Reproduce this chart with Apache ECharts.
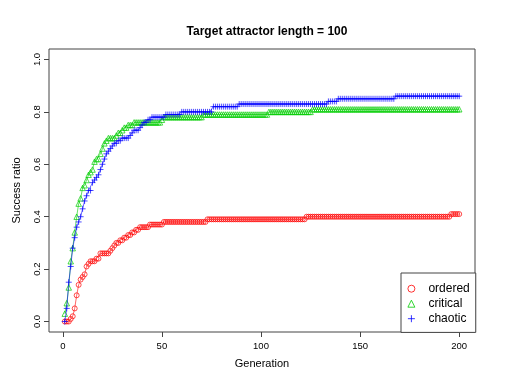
<!DOCTYPE html>
<html>
<head>
<meta charset="utf-8">
<script src="https://cdn.jsdelivr.net/npm/echarts@6/dist/echarts.min.js"></script>
<style>
  html, body { margin: 0; padding: 0; background: #fff; }
  #chart { width: 506px; height: 391px; }
</style>
</head>
<body>
<div id="chart"></div>
<script>
// success ratio per generation (1..200)
const ordered = [
  0, 0, 0, 0.01, 0.02, 0.05, 0.10, 0.14, 0.16, 0.17,
  0.18, 0.21, 0.22, 0.23, 0.23, 0.23, 0.24, 0.24, 0.26, 0.26,
  0.26, 0.26, 0.26, 0.27, 0.28, 0.29, 0.30, 0.30, 0.31, 0.31,
  0.32, 0.32, 0.33, 0.33, 0.34, 0.34, 0.35, 0.35, 0.36, 0.36,
  0.36, 0.36, 0.36, 0.37, 0.37, 0.37, 0.37, 0.37, 0.37, 0.37,
  0.38, 0.38, 0.38, 0.38, 0.38, 0.38, 0.38, 0.38, 0.38, 0.38,
  0.38, 0.38, 0.38, 0.38, 0.38, 0.38, 0.38, 0.38, 0.38, 0.38,
  0.38, 0.38, 0.39, 0.39, 0.39, 0.39, 0.39, 0.39, 0.39, 0.39,
  0.39, 0.39, 0.39, 0.39, 0.39, 0.39, 0.39, 0.39, 0.39, 0.39,
  0.39, 0.39, 0.39, 0.39, 0.39, 0.39, 0.39, 0.39, 0.39, 0.39,
  0.39, 0.39, 0.39, 0.39, 0.39, 0.39, 0.39, 0.39, 0.39, 0.39,
  0.39, 0.39, 0.39, 0.39, 0.39, 0.39, 0.39, 0.39, 0.39, 0.39,
  0.39, 0.39, 0.40, 0.40, 0.40, 0.40, 0.40, 0.40, 0.40, 0.40,
  0.40, 0.40, 0.40, 0.40, 0.40, 0.40, 0.40, 0.40, 0.40, 0.40,
  0.40, 0.40, 0.40, 0.40, 0.40, 0.40, 0.40, 0.40, 0.40, 0.40,
  0.40, 0.40, 0.40, 0.40, 0.40, 0.40, 0.40, 0.40, 0.40, 0.40,
  0.40, 0.40, 0.40, 0.40, 0.40, 0.40, 0.40, 0.40, 0.40, 0.40,
  0.40, 0.40, 0.40, 0.40, 0.40, 0.40, 0.40, 0.40, 0.40, 0.40,
  0.40, 0.40, 0.40, 0.40, 0.40, 0.40, 0.40, 0.40, 0.40, 0.40,
  0.40, 0.40, 0.40, 0.40, 0.40, 0.41, 0.41, 0.41, 0.41, 0.41
];

const critical = [
  0.03, 0.07, 0.13, 0.23, 0.28, 0.34, 0.40, 0.45, 0.47, 0.51,
  0.52, 0.54, 0.56, 0.57, 0.58, 0.61, 0.62, 0.62, 0.64, 0.66,
  0.68, 0.69, 0.70, 0.70, 0.70, 0.70, 0.71, 0.72, 0.72, 0.73,
  0.74, 0.74, 0.75, 0.75, 0.75, 0.76, 0.76, 0.76, 0.76, 0.76,
  0.76, 0.76, 0.76, 0.76, 0.76, 0.76, 0.76, 0.76, 0.76, 0.77,
  0.78, 0.78, 0.78, 0.78, 0.78, 0.78, 0.78, 0.78, 0.78, 0.78,
  0.78, 0.78, 0.78, 0.78, 0.78, 0.78, 0.78, 0.78, 0.78, 0.78,
  0.79, 0.79, 0.79, 0.79, 0.79, 0.79, 0.79, 0.79, 0.79, 0.79,
  0.79, 0.79, 0.79, 0.79, 0.79, 0.79, 0.79, 0.79, 0.79, 0.79,
  0.79, 0.79, 0.79, 0.79, 0.79, 0.79, 0.79, 0.79, 0.79, 0.79,
  0.79, 0.79, 0.79, 0.80, 0.80, 0.80, 0.80, 0.80, 0.80, 0.80,
  0.80, 0.80, 0.80, 0.80, 0.80, 0.80, 0.80, 0.80, 0.80, 0.80,
  0.80, 0.80, 0.80, 0.80, 0.80, 0.81, 0.81, 0.81, 0.81, 0.81,
  0.81, 0.81, 0.81, 0.81, 0.81, 0.81, 0.81, 0.81, 0.81, 0.81,
  0.81, 0.81, 0.81, 0.81, 0.81, 0.81, 0.81, 0.81, 0.81, 0.81,
  0.81, 0.81, 0.81, 0.81, 0.81, 0.81, 0.81, 0.81, 0.81, 0.81,
  0.81, 0.81, 0.81, 0.81, 0.81, 0.81, 0.81, 0.81, 0.81, 0.81,
  0.81, 0.81, 0.81, 0.81, 0.81, 0.81, 0.81, 0.81, 0.81, 0.81,
  0.81, 0.81, 0.81, 0.81, 0.81, 0.81, 0.81, 0.81, 0.81, 0.81,
  0.81, 0.81, 0.81, 0.81, 0.81, 0.81, 0.81, 0.81, 0.81, 0.81
];

const chaotic = [
  0.00, 0.05, 0.15, 0.21, 0.28, 0.32, 0.36, 0.38, 0.40, 0.43,
  0.46, 0.48, 0.50, 0.50, 0.53, 0.54, 0.55, 0.56, 0.58, 0.60,
  0.62, 0.64, 0.65, 0.66, 0.67, 0.68, 0.68, 0.69, 0.69, 0.70,
  0.70, 0.70, 0.70, 0.71, 0.72, 0.73, 0.73, 0.73, 0.74, 0.75,
  0.76, 0.76, 0.77, 0.77, 0.78, 0.78, 0.78, 0.78, 0.78, 0.78,
  0.78, 0.79, 0.79, 0.79, 0.79, 0.79, 0.79, 0.79, 0.79, 0.80,
  0.80, 0.80, 0.80, 0.80, 0.80, 0.80, 0.80, 0.80, 0.80, 0.80,
  0.80, 0.80, 0.80, 0.80, 0.80, 0.82, 0.82, 0.82, 0.82, 0.82,
  0.82, 0.82, 0.82, 0.82, 0.82, 0.82, 0.82, 0.82, 0.83, 0.83,
  0.83, 0.83, 0.83, 0.83, 0.83, 0.83, 0.83, 0.83, 0.83, 0.83,
  0.83, 0.83, 0.83, 0.83, 0.83, 0.83, 0.83, 0.83, 0.83, 0.83,
  0.83, 0.83, 0.83, 0.83, 0.83, 0.83, 0.83, 0.83, 0.83, 0.83,
  0.83, 0.83, 0.83, 0.83, 0.83, 0.83, 0.83, 0.83, 0.83, 0.83,
  0.83, 0.83, 0.83, 0.84, 0.84, 0.84, 0.84, 0.84, 0.85, 0.85,
  0.85, 0.85, 0.85, 0.85, 0.85, 0.85, 0.85, 0.85, 0.85, 0.85,
  0.85, 0.85, 0.85, 0.85, 0.85, 0.85, 0.85, 0.85, 0.85, 0.85,
  0.85, 0.85, 0.85, 0.85, 0.85, 0.85, 0.85, 0.86, 0.86, 0.86,
  0.86, 0.86, 0.86, 0.86, 0.86, 0.86, 0.86, 0.86, 0.86, 0.86,
  0.86, 0.86, 0.86, 0.86, 0.86, 0.86, 0.86, 0.86, 0.86, 0.86,
  0.86, 0.86, 0.86, 0.86, 0.86, 0.86, 0.86, 0.86, 0.86, 0.86
];

const xTicks = [0, 50, 100, 150, 200];
const yTicks = [0, 0.2, 0.4, 0.6, 0.8, 1.0];
const seriesNames = ['ordered', 'critical', 'chaotic'];
const seriesColors = ['#ff0000', '#00cd00', '#0000ff'];

const plusPath = 'path://M0,5L10,5M5,0L5,10';
const symbols = ['circle', 'triangle', plusPath];
const symbolSizes = [5, 5.5, 6];

const font = 'Liberation Sans, Arial, Helvetica, sans-serif';
const chart = echarts.init(document.getElementById('chart'), null, { renderer: 'canvas' });

function toPoints(values) {
  return values.map((v, i) => [i + 1, v]);
}

const allValues = [ordered, critical, chaotic];

const option = {
  backgroundColor: '#fff',
  animation: false,
  title: {
    text: 'Target attractor length = 100',
    left: 262,
    top: 21,
    textAlign: 'center',
    textStyle: { fontFamily: font, fontSize: 12, fontWeight: 'bold', color: '#000' }
  },
  grid: {
    left: 49,
    right: 31,
    top: 49,
    bottom: 59,
    show: true,
    borderColor: '#444',
    borderWidth: 1,
    backgroundColor: 'transparent'
  },
  legend: {
    orient: 'vertical',
    left: 401,
    top: 273,
    padding: [8.7, 6, 6.7, 6.5],
    itemGap: 1,
    itemWidth: 7,
    itemHeight: 7,
    borderColor: '#444',
    borderWidth: 1,
    backgroundColor: '#fff',
    itemStyle: { borderWidth: 0.8 },
    textStyle: { fontFamily: font, fontSize: 12, lineHeight: 14, color: '#000', padding: [0, 0, 0, 8.5] },
    data: seriesNames.map((n, i) => ({ name: n, icon: symbols[i] }))
  },
  xAxis: {
    type: 'value',
    min: -6.96,
    max: 207.96,
    name: 'Generation',
    nameLocation: 'middle',
    nameGap: 26,
    nameTextStyle: { fontFamily: font, fontSize: 11, color: '#000', verticalAlign: 'top' },
    axisLine: { show: false, onZero: false },
    splitLine: { show: false },
    axisTick: { show: true, length: 5, customValues: xTicks, lineStyle: { color: '#444' } },
    axisLabel: {
      customValues: xTicks,
      margin: 9.5,
      fontFamily: font,
      fontSize: 9.5,
      color: '#000'
    }
  },
  yAxis: {
    type: 'value',
    min: -0.04,
    max: 1.04,
    name: 'Success ratio',
    nameLocation: 'middle',
    nameGap: 27,
    nameTextStyle: { fontFamily: font, fontSize: 11, color: '#000' },
    axisLine: { show: false, onZero: false },
    splitLine: { show: false },
    axisTick: { show: true, length: 5, customValues: yTicks, lineStyle: { color: '#444' } },
    axisLabel: {
      customValues: yTicks,
      rotate: 90,
      margin: 7,
      fontFamily: font,
      fontSize: 9.5,
      color: '#000',
      formatter: (v) => v.toFixed(1)
    }
  },
  series: seriesNames.map((name, i) => ({
    name: name,
    type: 'line',
    data: toPoints(allValues[i]),
    symbol: symbols[i],
    symbolSize: symbolSizes[i],
    showAllSymbol: true,
    clip: false,
    lineStyle: { color: seriesColors[i], width: 0.6 },
    itemStyle: { color: 'rgba(255,255,255,0)', borderColor: seriesColors[i], borderWidth: 0.7 },
    emphasis: { disabled: true },
    z: 2 + i
  }))
};

chart.setOption(option);
</script>
</body>
</html>
